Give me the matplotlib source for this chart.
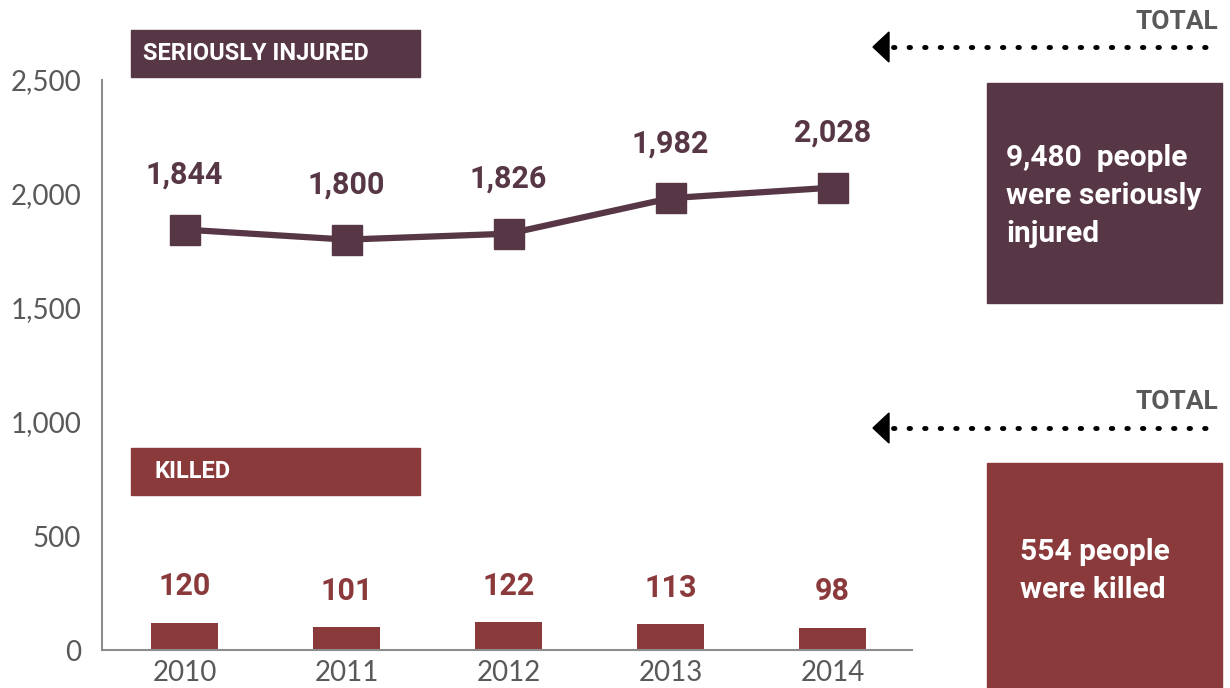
import matplotlib
matplotlib.use('Agg')
import matplotlib.pyplot as plt
from matplotlib.patches import Rectangle, Polygon
from matplotlib.lines import Line2D

years = ['2010', '2011', '2012', '2013', '2014']
injured = [1844, 1800, 1826, 1982, 2028]
killed = [120, 101, 122, 113, 98]
total_injured = '9,480'
total_killed = '554'

c_inj = '#573646'
c_kil = '#8b3a3c'
c_gray = '#595959'
cond = ['Liberation Sans Narrow', 'Roboto', 'DejaVu Sans']

plt.rcParams['font.family'] = ['Lato', 'DejaVu Sans']
fig = plt.figure(figsize=(12.3, 6.88), dpi=100)
ax = fig.add_axes([0.0829, 0.0552, 0.6586, 0.8285])
x = list(range(len(years)))

ax.bar(x, killed, width=0.41, color=c_kil, zorder=2)
ax.plot(x, injured, color=c_inj, lw=4.5, marker='s', ms=22, zorder=3)
for xi, v in zip(x, injured):
    ax.text(xi, v + 240, f'{v:,}', ha='center', va='center', fontsize=22,
            fontweight='bold', color=c_inj, family=cond)
for xi, v in zip(x, killed):
    ax.text(xi, v + 160, f'{v}', ha='center', va='center', fontsize=22,
            fontweight='bold', color=c_kil, family=cond)

ax.set_xlim(-0.51, 4.49)
ax.set_ylim(0, 2500)
ax.set_xticks(x)
ax.set_xticklabels(years)
ax.set_yticks([0, 500, 1000, 1500, 2000, 2500])
ax.set_yticklabels(['0', '500', '1,000', '1,500', '2,000', '2,500'])
ax.tick_params(length=0, labelsize=20, labelcolor=c_gray, pad=7)
ax.tick_params(axis='y', pad=15)
for s in ['top', 'right']:
    ax.spines[s].set_visible(False)
for s in ['left', 'bottom']:
    ax.spines[s].set_color('#8c8c8c')
    ax.spines[s].set_linewidth(1.5)

W, H = 1230, 688
def px(x0, y0, x1, y1):
    return (x0 / W, 1 - y1 / H, (x1 - x0) / W, (y1 - y0) / H)

# section header boxes
for (y0, y1, col, lab) in [(30, 77, c_inj, 'SERIOUSLY INJURED'), (448, 495, c_kil, 'KILLED')]:
    bx, by, bw, bh = px(131, y0, 420, y1)
    fig.add_artist(Rectangle((bx, by), bw, bh, transform=fig.transFigure, color=col))
    tx = 143 if col == c_inj else 154
    fig.text(tx / W, by + bh / 2, lab, ha='left', va='center', fontsize=17,
             fontweight='bold', color='white', family=cond)

# totals boxes
for (y0, y1, col, txt, tx, cy) in [
        (83, 303, c_inj, f'{total_injured}  people\nwere seriously\ninjured', 1006, 196),
        (463, 688, c_kil, f'{total_killed} people\nwere killed', 1020, 571)]:
    bx, by, bw, bh = px(987, y0, 1222, y1)
    fig.add_artist(Rectangle((bx, by), bw, bh, transform=fig.transFigure, color=col))
    fig.text(tx / W, 1 - cy / H, txt, ha='left', va='center', fontsize=21.5,
             fontweight='bold', color='white', family=cond, linespacing=1.45)

# TOTAL arrows
for ty, ly in [(22, 47), (402, 428)]:
    fig.text(1218 / W, 1 - ty / H, 'TOTAL', ha='right', va='center', fontsize=19,
             fontweight='bold', color=c_gray, family=cond)
    fig.add_artist(Line2D([893 / W, 1218 / W], [1 - ly / H, 1 - ly / H],
                          transform=fig.transFigure, color='black', lw=3.5,
                          linestyle=(0, (0.3, 2.9)), dash_capstyle='round'))
    fig.add_artist(Polygon([(873 / W, 1 - ly / H), (889 / W, 1 - (ly - 15) / H),
                            (889 / W, 1 - (ly + 15) / H)], closed=True,
                           transform=fig.transFigure, color='black'))

fig.savefig('out.png', dpi=100)
